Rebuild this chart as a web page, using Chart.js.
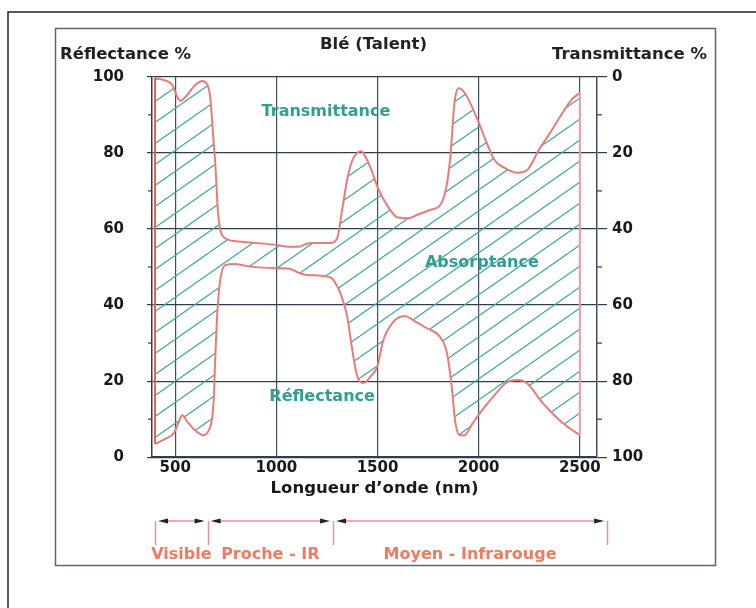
<!DOCTYPE html>
<html>
<head>
<meta charset="utf-8">
<script src="https://cdn.jsdelivr.net/npm/chart.js@4.4.1/dist/chart.umd.min.js"></script>
<style>
  html, body { margin: 0; padding: 0; background: #fff; }
  #wrap { width: 756px; height: 608px; }
</style>
</head>
<body>
<div id="wrap"><canvas id="spectre" width="756" height="608"></canvas></div>
<script>
// Blé (Talent) - réflectance / transmittance
const reflWl = [400, 450, 495, 515, 535, 560, 600, 640, 665, 680, 690, 697, 708, 722, 747, 790, 870, 1000, 1060, 1110, 1150, 1265, 1300, 1330, 1350, 1370, 1390, 1405, 1430, 1470, 1500, 1527, 1577, 1636, 1677, 1744, 1809, 1843, 1867, 1883, 1907, 1932, 1965, 2006, 2070, 2140, 2194, 2238, 2317, 2400, 2450, 2500];
const reflectance = [3.5, 4.8, 6.5, 9, 11, 9.3, 7, 5.8, 7, 9.5, 15, 25, 38, 46.5, 50.5, 50.8, 50.1, 49.7, 49.6, 48.5, 47.9, 47.3, 45, 41, 37, 30, 23.5, 20.5, 19.5, 21.5, 24, 30.5, 35.5, 37.1, 36, 33.9, 31.6, 27.4, 18.4, 9.7, 5.8, 5.8, 8.5, 11.6, 15.8, 19.7, 20.3, 19.5, 14.2, 9.7, 7.6, 5.8];

const transWl = [400, 440, 485, 510, 525, 550, 600, 633, 658, 673, 688, 698, 712, 737, 800, 900, 1000, 1060, 1110, 1150, 1180, 1265, 1300, 1325, 1350, 1375, 1400, 1420, 1440, 1470, 1500, 1550, 1600, 1650, 1700, 1760, 1810, 1840, 1860, 1880, 1900, 1920, 1950, 2000, 2040, 2080, 2130, 2190, 2240, 2300, 2350, 2400, 2460, 2500];
const transmittance = [0.3, 0.8, 2.1, 5.3, 6.3, 5.3, 2.1, 1.1, 2, 5.5, 16, 23, 36, 42, 43.2, 43.7, 44.2, 44.7, 44.7, 43.9, 43.7, 43.7, 42.5, 35, 27, 22, 20, 19.6, 21, 24.5, 29, 34, 37, 37.2, 36.2, 35, 33.7, 29, 21, 7, 3, 3.5, 6, 12, 17.4, 22, 24, 25.2, 24.5, 19, 15, 10.7, 6, 4.2];

const xTicks = [500, 1000, 1500, 2000, 2500];
const yTicks = [0, 20, 40, 60, 80, 100];
const yMinor = [10, 30, 50, 70, 90];

const bandEdges = [400, 660, 1280, 2635];
const bandNames = ['Visible', 'Proche - IR', 'Moyen - Infrarouge'];

const zoneLabels = [
  { text: 'Transmittance', x: 1245, y: 90.8 },
  { text: 'Absorptance', x: 2016, y: 51 },
  { text: 'Réflectance', x: 1226, y: 15.8 }
];

const FONT = 'DejaVu Sans';
const GRID = '#2f3d4c';
const CURVE = '#ec7a78';
const TEAL = '#2f9f92';

Chart.defaults.font.family = FONT;

const canvas = document.getElementById('spectre');
const c2d = canvas.getContext('2d');

function hatch() {
  const w = 30, h = 21;
  const tile = document.createElement('canvas');
  tile.width = w; tile.height = h;
  const g = tile.getContext('2d');
  g.strokeStyle = '#3aa89c';
  g.lineWidth = 1.2;
  for (const k of [-1, 0, 1]) {
    g.beginPath();
    g.moveTo(0, h + k * h);
    g.lineTo(w, k * h);
    g.stroke();
  }
  return c2d.createPattern(tile, 'repeat');
}

const decor = {
  id: 'decor',
  beforeDraw(chart) {
    const ctx = chart.ctx;
    ctx.save();
    ctx.fillStyle = '#fff';
    ctx.fillRect(0, 0, chart.width, chart.height);
    ctx.strokeStyle = '#222';
    ctx.lineWidth = 1.5;
    ctx.beginPath();
    ctx.moveTo(8, 620); ctx.lineTo(8, 12); ctx.lineTo(760, 12);
    ctx.stroke();
    ctx.strokeStyle = '#56697a';
    ctx.strokeRect(55.5, 28.5, 660, 537);

    ctx.fillStyle = '#222';
    ctx.font = 'bold 16.5px "' + FONT + '"';
    ctx.textBaseline = 'middle';
    ctx.textAlign = 'left';
    ctx.fillText('Réflectance %', 60, 55);
    ctx.textAlign = 'right';
    ctx.fillText('Transmittance %', 707, 55);
    ctx.restore();
  },
  afterDatasetsDraw(chart) {
    const ctx = chart.ctx;
    const xs = chart.scales.x, yr = chart.scales.y, yt = chart.scales.yT;
    ctx.save();

    // bords du domaine hachuré
    const n = reflWl.length - 1, m = transWl.length - 1;
    ctx.lineWidth = 2;
    ctx.strokeStyle = '#e8604f';
    ctx.beginPath();
    ctx.moveTo(xs.getPixelForValue(reflWl[0]), yr.getPixelForValue(reflectance[0]));
    ctx.lineTo(xs.getPixelForValue(transWl[0]), yt.getPixelForValue(transmittance[0]));
    ctx.stroke();
    ctx.strokeStyle = '#f29aa8';
    ctx.beginPath();
    ctx.moveTo(xs.getPixelForValue(reflWl[n]), yr.getPixelForValue(reflectance[n]));
    ctx.lineTo(xs.getPixelForValue(transWl[m]), yt.getPixelForValue(transmittance[m]));
    ctx.stroke();

    // petites graduations
    ctx.strokeStyle = GRID;
    ctx.lineWidth = 1.2;
    const left = chart.chartArea.left, right = chart.chartArea.right;
    yMinor.forEach(v => {
      const py = yr.getPixelForValue(v);
      ctx.beginPath(); ctx.moveTo(left - 4, py); ctx.lineTo(left, py); ctx.stroke();
      ctx.beginPath(); ctx.moveTo(right, py); ctx.lineTo(right + 5, py); ctx.stroke();
    });

    // noms des zones
    ctx.fillStyle = TEAL;
    ctx.font = 'bold 16px "' + FONT + '"';
    ctx.textAlign = 'center';
    ctx.textBaseline = 'middle';
    zoneLabels.forEach(l => {
      ctx.fillText(l.text, xs.getPixelForValue(l.x), yr.getPixelForValue(l.y));
    });

    // domaines spectraux
    const yA = 521, yB = 545;
    ctx.strokeStyle = '#f08c94';
    ctx.lineWidth = 1.5;
    bandEdges.forEach(e => {
      const px = Math.round(xs.getPixelForValue(e)) + 0.5;
      ctx.beginPath(); ctx.moveTo(px, yA); ctx.lineTo(px, yB); ctx.stroke();
    });
    ctx.font = 'bold 16px "' + FONT + '"';
    bandNames.forEach((name, i) => {
      const xa = xs.getPixelForValue(bandEdges[i]) + 3;
      const xb = xs.getPixelForValue(bandEdges[i + 1]) - 3;
      ctx.strokeStyle = '#f08c94';
      ctx.beginPath(); ctx.moveTo(xa + 4, yA); ctx.lineTo(xb - 4, yA); ctx.stroke();
      ctx.fillStyle = '#222';
      ctx.beginPath(); ctx.moveTo(xa, yA); ctx.lineTo(xa + 10, yA - 2.5); ctx.lineTo(xa + 10, yA + 2.5); ctx.closePath(); ctx.fill();
      ctx.beginPath(); ctx.moveTo(xb, yA); ctx.lineTo(xb - 10, yA - 2.5); ctx.lineTo(xb - 10, yA + 2.5); ctx.closePath(); ctx.fill();
      ctx.fillStyle = '#ee7b62';
      ctx.fillText(name, (xa + xb) / 2, 555);
    });
    ctx.restore();
  }
};

new Chart(canvas, {
  type: 'line',
  data: {
    datasets: [{
      label: 'Réflectance',
      data: reflWl.map((w, i) => ({ x: w, y: reflectance[i] })),
      yAxisID: 'y',
      borderColor: CURVE,
      borderWidth: 2,
      pointRadius: 0,
      cubicInterpolationMode: 'monotone',
      fill: false
    }, {
      label: 'Transmittance',
      data: transWl.map((w, i) => ({ x: w, y: transmittance[i] })),
      yAxisID: 'yT',
      borderColor: CURVE,
      borderWidth: 2,
      pointRadius: 0,
      cubicInterpolationMode: 'monotone',
      fill: '-1',
      backgroundColor: hatch()
    }]
  },
  options: {
    responsive: false,
    animation: false,
    devicePixelRatio: 1,
    layout: { padding: { left: 90, right: 99, top: 0, bottom: 109 } },
    scales: {
      x: {
        type: 'linear',
        min: 385,
        max: 2585,
        afterBuildTicks: s => { s.ticks = xTicks.map(v => ({ value: v })); },
        grid: { color: '#3b5066', lineWidth: 1.2, drawTicks: false },
        border: { color: GRID, width: 1.5 },
        ticks: { color: '#1a1a1a', padding: 2, font: { size: 15, weight: 'bold' }, callback: v => String(v) },
        title: {
          display: true,
          text: "Longueur d’onde (nm)",
          color: '#1a1a1a',
          padding: { top: 0, bottom: 0 },
          font: { size: 16.5, weight: 'bold' }
        }
      },
      y: {
        position: 'left',
        min: 0,
        max: 100,
        afterBuildTicks: s => { s.ticks = yTicks.map(v => ({ value: v })); },
        afterFit: s => { s.width = 62; },
        grid: { color: GRID, lineWidth: 1.2, tickLength: 5 },
        border: { color: GRID, width: 1.5 },
        ticks: { color: '#1a1a1a', padding: 23, font: { size: 15, weight: 'bold' }, callback: v => String(v) }
      },
      yT: {
        position: 'right',
        reverse: true,
        min: 0,
        max: 100,
        afterBuildTicks: s => { s.ticks = yTicks.map(v => ({ value: v })); },
        afterFit: s => { s.width = 60; },
        grid: { drawOnChartArea: false, color: GRID, lineWidth: 1.2, tickLength: 10 },
        border: { color: '#3b5066', width: 1.5 },
        ticks: { color: '#1a1a1a', padding: 5, font: { size: 15, weight: 'bold' }, callback: v => String(v) }
      }
    },
    plugins: {
      legend: { display: false },
      tooltip: { enabled: false },
      title: {
        display: true,
        text: 'Blé (Talent)',
        color: '#222',
        padding: { top: 35, bottom: 22 },
        font: { size: 16.5, weight: 'bold' }
      }
    }
  },
  plugins: [decor]
});
</script>
</body>
</html>
